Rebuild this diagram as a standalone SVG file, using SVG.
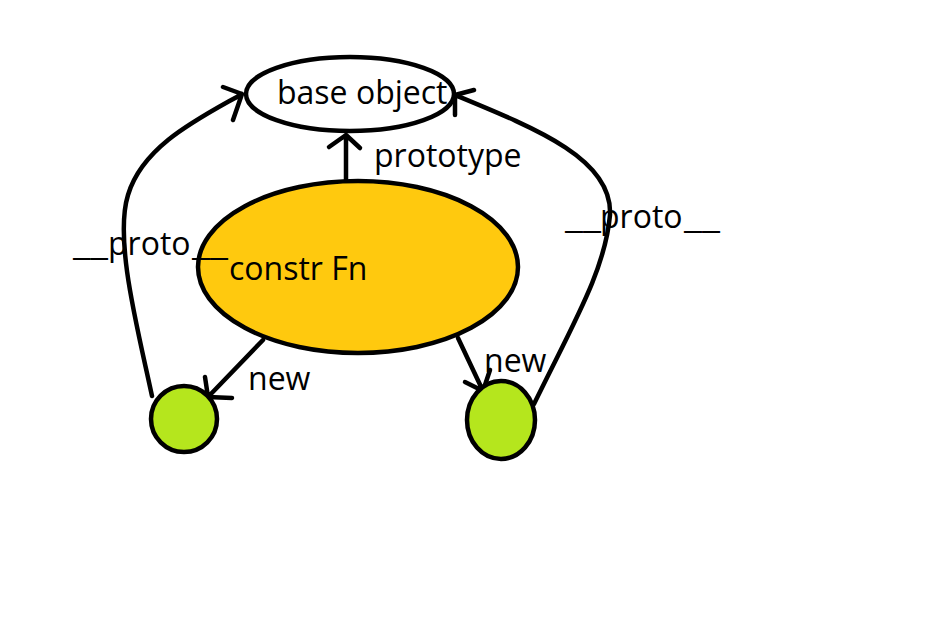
<svg xmlns="http://www.w3.org/2000/svg" width="944" height="623" viewBox="0 0 944 623">
<style>
.ln{fill:none;stroke:#000;stroke-width:4.5;stroke-linecap:round;stroke-linejoin:round}
.nd{stroke:#000;stroke-width:4.5}
text{font-family:"Open Sans","Noto Sans",sans-serif;font-size:32px;fill:#000}
</style>
<rect width="944" height="623" fill="#fff"/>
<g id="connectors">
<path class="ln" d="M346,180 V135 M329,147 L346,135 L360,148"/>
<path class="ln" d="M152,396 C138,330 114,240 128,195 C143,145 200,118 242,94 M223,87 L242,94 L233,120"/>
<path class="ln" d="M534,404 C575,320 605,270 610,215 C613,160 540,130 455,95 M474,90 L455,95 L455,115"/>
<path class="ln" d="M263,340 L208,397 M205,377 L208,397 L232,398"/>
<path class="ln" d="M458,338 L483,391 M465,382 L483,391 L490,370"/>
</g>
<g id="base-object">
<ellipse class="nd" cx="350" cy="94" rx="104" ry="37" fill="#fff"/>
<text x="277" y="104">base object</text>
</g>
<g id="constr-fn">
<ellipse class="nd" cx="358" cy="267" rx="160" ry="86" fill="#FFC90E"/>
<text x="229" y="280">constr Fn</text>
</g>
<g id="instance-left">
<ellipse class="nd" cx="184" cy="419" rx="33" ry="33" fill="#B5E61D"/>
</g>
<g id="instance-right">
<ellipse class="nd" cx="501" cy="420" rx="34" ry="39" fill="#B5E61D"/>
</g>
<g id="labels">
<text x="374" y="167">prototype</text>
<text y="255"><tspan x="73" textLength="35" lengthAdjust="spacingAndGlyphs">__</tspan><tspan x="108">proto</tspan><tspan x="192" textLength="36" lengthAdjust="spacingAndGlyphs">__</tspan></text>
<text y="228"><tspan x="565" textLength="36" lengthAdjust="spacingAndGlyphs">__</tspan><tspan x="600">proto</tspan><tspan x="684" textLength="36" lengthAdjust="spacingAndGlyphs">__</tspan></text>
<text x="248" y="390">new</text>
<text x="484" y="372">new</text>
</g>
</svg>
